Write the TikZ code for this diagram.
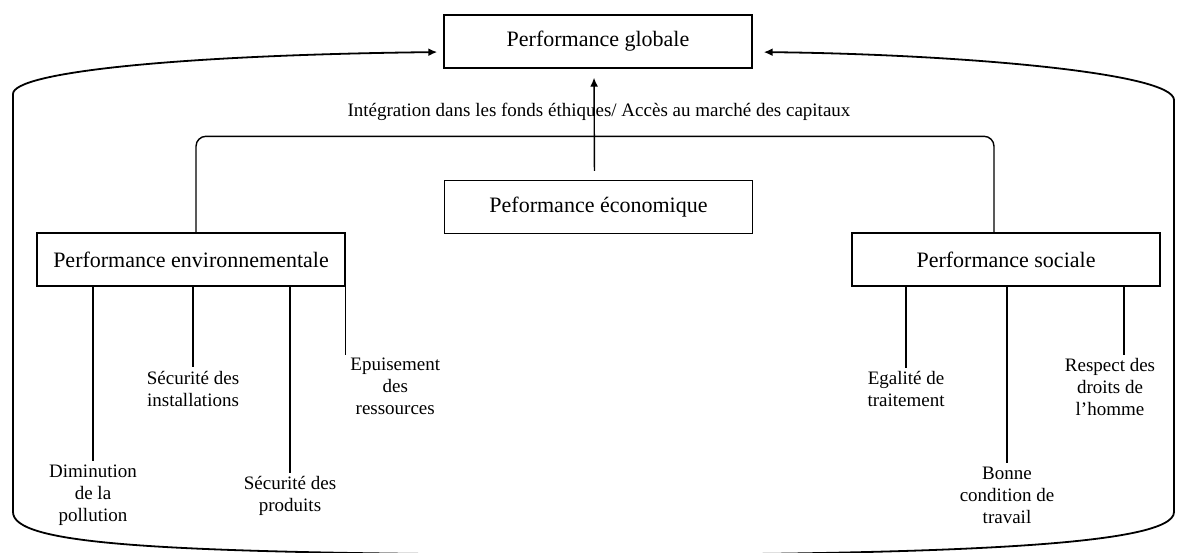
\documentclass[tikz,border=0pt]{standalone}
\usepackage{fontspec}
\setmainfont{Liberation Serif}
\usetikzlibrary{arrows.meta}
\tikzset{
  every node/.style={
    text=black
  },
  box/.style={draw, line width=0.7pt, inner sep=0pt,
    minimum width=154pt, minimum height=26.5pt,
    font=\fontsize{11}{13}\selectfont},
  leaf/.style={align=center, inner sep=1.5pt,
    font=\fontsize{9.5}{11}\selectfont},
  link/.style={line width=0.7pt},
  tip/.style={-{Latex[length=4.5pt,width=4pt]}},
  twotips/.style={{Latex[length=4.5pt,width=4pt]}-{Latex[length=4.5pt,width=4pt]}}
}

\begin{document}
\begin{tikzpicture}[x=0.5pt,y=-0.5pt]
    %\draw[gray, very thin] (0,0) grid (1178,552);
    \useasboundingbox (0,0) rectangle (1178,552);
    \clip (0,0) rectangle (1178,552);

    \node[box] (glob) at (598,41.5) {Performance globale};
    \node[box] (eco) at (598.5,207) {Peformance économique};
    \node[box] (env) at (191,259.5) {Performance environnementale};
    \node[box] (soc) at (1006,259.5) {Performance sociale};

    \node[leaf] (integ) at (599,112) {Intégration dans les fonds éthiques/ Accès au marché des capitaux};

    % feuilles environnementales
    \node[leaf] (dimi) at (93,495) {Diminution\\de la\\pollution};
    \node[leaf] (secinst) at (193,388.5) {Sécurité des\\installations};
    \node[leaf] (secprod) at (290,496) {Sécurité des\\produits};
    \node[leaf, anchor=north west] (epui) at (347,355) {Epuisement\\des\\ressources};

    % feuilles sociales
    \node[leaf] (egal) at (906,389) {Egalité de\\traitement};
    \node[leaf] (bonne) at (1007,495) {Bonne\\condition de\\travail};
    \node[leaf] (resp) at (1110,387) {Respect des\\droits de\\l'homme};
    \coordinate (resptop) at ([xshift=7pt]resp.north);

    \draw[link] (env.south -| dimi.north) -- (dimi.north);
    \draw[link] (env.south -| secinst.north) -- (secinst.north);
    \draw[link] (env.south -| secprod.north) -- (secprod.north);
    \draw[link] (env.south east) -- (env.south east |- epui.north west);
    \draw[link] (soc.south -| egal.north) -- (egal.north);
    \draw[link] (soc.south -| bonne.north) -- (bonne.north);
    \draw[link] (soc.south -| resptop) -- (resptop);

    \draw[link, rounded corners=5pt] ([xshift=2.5pt]env.north) -- ++(0,-96) -| ([xshift=-6pt]soc.north);
    \draw[link, tip, shorten <=4.5pt, shorten >=4.5pt] ([xshift=-2pt]eco.north) -- ([xshift=-2pt]glob.south);

    % cadre autour
    \draw[link, line width=0.9pt, twotips, shorten <=3pt, shorten >=5.5pt]
      ([yshift=-5.25pt]glob.west) .. controls (180,55) and (13,72) .. (13,94)
      -- (13,512) .. controls (13,545) and (160,553) .. (560,555)
      .. controls (960,555) and (1174,545) .. (1174,512)
      -- (1174,100) .. controls (1174,72) and (950,54) .. ([yshift=-5.25pt]glob.east);
\end{tikzpicture}
\end{document}
